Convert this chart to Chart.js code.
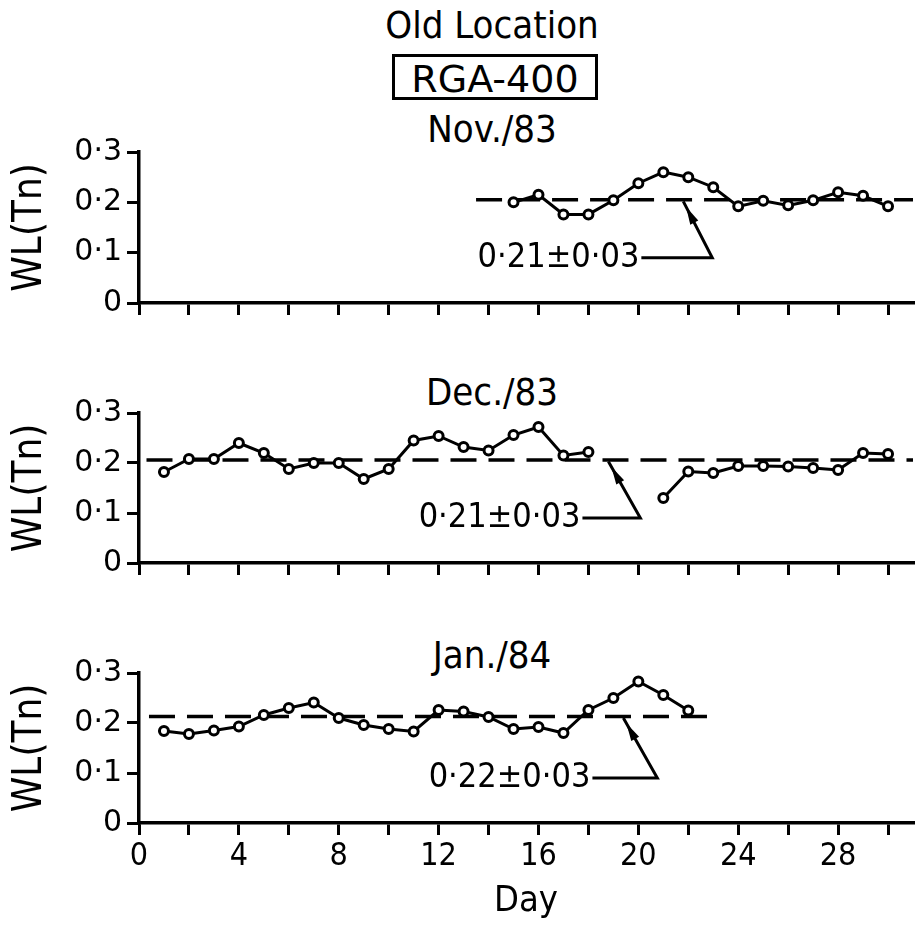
<!DOCTYPE html>
<html>
<head>
<meta charset="utf-8">
<script src="https://cdn.jsdelivr.net/npm/chart.js@4.4.1/dist/chart.umd.min.js"></script>
<style>
  body { margin: 0; background: #fff; }
  #page { position: relative; width: 923px; height: 926px; overflow: hidden; }
  canvas { position: absolute; left: 0; }
  .title {
    position: absolute; left: 0; width: 984px; text-align: center;
    font-family: "DejaVu Sans Condensed", "DejaVu Sans", sans-serif;
    font-size: 38px; line-height: 38px; color: #000; white-space: nowrap;
  }
  #rga {
    position: absolute; left: 392px; top: 54px; width: 206px; height: 46px;
    box-sizing: border-box; border: 3px solid #000; padding-top: 3px;
    text-align: center; font-family: "DejaVu Sans", sans-serif;
    font-size: 38px; line-height: 38px; color: #000;
  }
</style>
</head>
<body>
<div id="page">
  <div class="title" style="top:6px">Old Location</div>
  <div id="rga">RGA-400</div>
  <div class="title" style="top:110px">Nov./83</div>
  <div class="title" style="top:373px">Dec./83</div>
  <div class="title" style="top:636px">Jan./84</div>
  <canvas id="novChart" width="923" height="199" style="top:128px"></canvas>
  <canvas id="decChart" width="923" height="198" style="top:389px"></canvas>
  <canvas id="janChart" width="923" height="277" style="top:649px"></canvas>
</div>
<script>
// day of month
const days = [1, 2, 3, 4, 5, 6, 7, 8, 9, 10, 11, 12, 13, 14, 15,
              16, 17, 18, 19, 20, 21, 22, 23, 24, 25, 26, 27, 28, 29, 30];

// WL (Tn), null = no reading
const novWL = [null, null, null, null, null, null, null, null, null, null, null, null, null, null,
               0.200, 0.215, 0.176, 0.176, 0.204, 0.238, 0.260, 0.250, 0.230, 0.192,
               0.203, 0.194, 0.204, 0.220, 0.213, 0.192];
const decWL = [0.182, 0.208, 0.208, 0.240, 0.220, 0.188, 0.200, 0.200, 0.168, 0.188,
               0.245, 0.254, 0.232, 0.225, 0.256, 0.272, 0.215, 0.222, null, null,
               0.130, 0.183, 0.180, 0.194, 0.194, 0.193, 0.190, 0.186, 0.220, 0.218];
const janWL = [0.184, 0.178, 0.185, 0.193, 0.216, 0.230, 0.241, 0.210, 0.196, 0.188,
               0.183, 0.226, 0.223, 0.212, 0.188, 0.192, 0.180, 0.226, 0.250, 0.283,
               0.256, 0.225];

// monthly mean (dashed line) and its extent in days
const meanWL = [0.205, 0.206, 0.213];
const meanFrom = [13.5, 0.3, 0.4];
const meanTo = [31, 31, 22.85];
const meanText = ['0·21±0·03', '0·21±0·03', '0·22±0·03'];

const xTicks = [0, 2, 4, 6, 8, 10, 12, 14, 16, 18, 20, 22, 24, 26, 28, 30];
const xTickText = ['0', '', '4', '', '8', '', '12', '', '16', '', '20', '', '24', '', '28', ''];
const yTicks = [0, 0.1, 0.2, 0.3];
const yTickText = ['0', '0·1', '0·2', '0·3'];

const FONT = '"DejaVu Sans Condensed", "DejaVu Sans", sans-serif';

// where the mean label + arrow sit, in data units
const notes = [
    { text: meanText[0], textDay: 13.56, textWL: 0.09, elbowDay: 22.96, tipDay: 21.8, tipWL: 0.202 },
    { text: meanText[1], textDay: 11.2, textWL: 0.09, elbowDay: 20.08, tipDay: 18.8, tipWL: 0.203 },
    { text: meanText[2], textDay: 11.6, textWL: 0.09, elbowDay: 20.76, tipDay: 19.4, tipWL: 0.210 }
];

const meanNote = {
    id: 'meanNote',
    afterDatasetsDraw(chart, args, opts) {
        const { ctx, scales: { x, y } } = chart;
        const tx = x.getPixelForValue(opts.textDay);
        const ty = y.getPixelForValue(opts.textWL);
        const ex = x.getPixelForValue(opts.elbowDay);
        const px = x.getPixelForValue(opts.tipDay);
        const py = y.getPixelForValue(opts.tipWL);
        ctx.save();
        ctx.font = '34px ' + FONT;
        ctx.fillStyle = '#000';
        ctx.textBaseline = 'middle';
        ctx.fillText(opts.text, tx, ty);
        const w = ctx.measureText(opts.text).width;
        ctx.strokeStyle = '#000';
        ctx.lineWidth = 3;
        ctx.beginPath();
        ctx.moveTo(tx + w + 2, ty);
        ctx.lineTo(ex, ty);
        ctx.lineTo(px, py);
        ctx.stroke();
        // arrow head, a little back from the tip
        const a = Math.atan2(py - ty, px - ex);
        const hx = px - 6 * Math.cos(a), hy = py - 6 * Math.sin(a);
        ctx.beginPath();
        ctx.moveTo(hx, hy);
        ctx.lineTo(hx - 18 * Math.cos(a) + 4.5 * Math.sin(a), hy - 18 * Math.sin(a) - 4.5 * Math.cos(a));
        ctx.lineTo(hx - 18 * Math.cos(a) - 4.5 * Math.sin(a), hy - 18 * Math.sin(a) + 4.5 * Math.cos(a));
        ctx.closePath();
        ctx.fill();
        ctx.restore();
    }
};

function makeData(vals, i) {
    return {
        datasets: [{
            data: vals.map((v, k) => ({ x: days[k], y: v })),
            borderColor: '#000',
            borderWidth: 3,
            pointRadius: 4.5,
            pointBorderWidth: 3,
            pointBackgroundColor: '#fff',
            pointBorderColor: '#000',
            spanGaps: false,
            tension: 0
        }, {
            data: [{ x: meanFrom[i], y: meanWL[i] }, { x: meanTo[i], y: meanWL[i] }],
            borderColor: '#000',
            borderWidth: 3.5,
            borderDash: [26, 12],
            pointRadius: 0
        }]
    };
}

function makeOptions(i, bottom) {
    return {
        responsive: false,
        animation: false,
        layout: { padding: { top: 24, right: 10, bottom: 0, left: 0 } },
        plugins: {
            legend: { display: false },
            tooltip: { enabled: false },
            meanNote: notes[i]
        },
        scales: {
            x: {
                type: 'linear',
                min: 0,
                max: 31,
                afterBuildTicks: s => { s.ticks = xTicks.map(v => ({ value: v })); },
                afterFit: s => { s.height = bottom ? 103 : 24; },
                grid: { drawOnChartArea: false, color: '#000', lineWidth: 3, tickLength: 12 },
                border: { color: '#000', width: 3.5 },
                ticks: {
                    display: bottom,
                    autoSkip: false,
                    maxRotation: 0,
                    padding: 2,
                    color: '#000',
                    font: { family: FONT, size: 32 },
                    callback: (v, k) => xTickText[k]
                },
                title: {
                    display: bottom,
                    text: 'Day',
                    color: '#000',
                    font: { family: FONT, size: 36 },
                    padding: { top: 0, bottom: 3 }
                }
            },
            y: {
                min: 0,
                max: 0.3,
                afterBuildTicks: s => { s.ticks = yTicks.map(v => ({ value: v })); },
                afterFit: s => { s.width = 139; },
                grid: { drawOnChartArea: false, color: '#000', lineWidth: 3, tickLength: 12 },
                border: { color: '#000', width: 3.5 },
                ticks: {
                    padding: 5,
                    color: '#000',
                    font: { family: '"DejaVu Sans", sans-serif', size: 30 },
                    callback: (v, k) => yTickText[k]
                },
                title: {
                    display: true,
                    text: 'WL(Tn)',
                    color: '#000',
                    font: { family: FONT, size: 40 },
                    padding: { top: 7, bottom: 0 }
                }
            }
        }
    };
}

const novChart = new Chart(document.getElementById('novChart'), {
    type: 'line', data: makeData(novWL, 0), options: makeOptions(0, false), plugins: [meanNote]
});
const decChart = new Chart(document.getElementById('decChart'), {
    type: 'line', data: makeData(decWL, 1), options: makeOptions(1, false), plugins: [meanNote]
});
const janChart = new Chart(document.getElementById('janChart'), {
    type: 'line', data: makeData(janWL, 2), options: makeOptions(2, true), plugins: [meanNote]
});
</script>
</body>
</html>
